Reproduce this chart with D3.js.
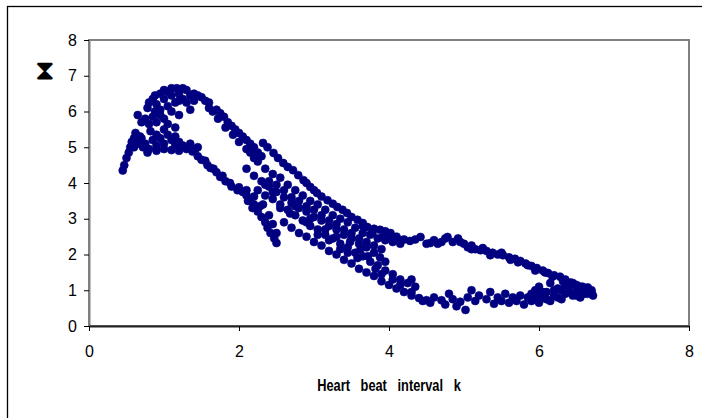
<!DOCTYPE html>
<html>
<meta charset="utf-8">
<style>
  body { margin: 0; background: #fff; }
  text { font-family: "Liberation Sans", Arial, sans-serif; fill: #000; }
  .tick text { font-size: 16px; }
  .title { font-size: 16px; font-weight: bold; white-space: pre; }
</style>
<body>
<script src="https://cdn.jsdelivr.net/npm/d3@7"></script>
<script>
// tick labels
var xTicks = [0, 2, 4, 6, 8]
var yTicks = [0, 1, 2, 3, 4, 5, 6, 7, 8]

// points [k, tau]
var hump = [[0.45,4.35],[0.47,4.5],[0.5,4.7],[0.53,4.85],[0.55,5.0],[0.57,5.15],[0.6,5.25],[0.63,5.2],[0.68,5.3],
  [0.66,5.1],[0.72,5.0],[0.65,5.9],[0.7,5.7],[0.78,6.1],[0.8,6.25],[0.85,6.35],[0.88,6.45],[0.95,6.5],[1.0,6.6],
  [1.05,6.55],[1.1,6.65],[1.17,6.65],[1.25,6.65],[1.3,6.6],[1.2,6.5],[1.1,6.45],[1.0,6.35],[0.9,6.2],[0.95,6.05],
  [1.05,6.15],[1.15,6.25],[1.25,6.35],[1.35,6.45],[1.35,6.05],[0.85,5.85],[0.8,5.65],[0.9,5.7],[1.0,5.8],[0.82,5.45],
  [0.9,5.35],[0.85,5.2],[0.95,5.25],[1.0,5.5],[1.05,5.35],[1.1,5.2],[1.15,5.3],[1.2,5.15],[1.0,5.1],[0.9,5.05],
  [0.8,4.95],[0.78,4.85],[0.9,4.9],[1.0,4.95],[1.1,4.92],[1.2,4.9],[1.3,4.95],[1.25,5.05],[1.35,5.1],[0.75,5.1],
  [0.62,5.4],[1.1,6.0],[1.2,5.9],[0.95,5.9],[1.05,5.65],[1.15,5.55],[0.75,5.8],[0.88,6.0],[1.2,6.3],[1.3,6.25],
  [1.4,6.3],[0.7,5.25],[1.15,5.05],[1.45,5.0],[0.6,5.0]]
var humpUpper = [[1.4,6.5],[1.45,6.45],[1.5,6.4],[1.55,6.3],[1.6,6.25],[1.6,6.1],[1.65,6.0],[1.7,6.05],[1.75,5.95],
  [1.8,5.85],[1.72,5.8],[1.85,5.7],[1.9,5.6],[1.82,5.55],[1.95,5.5],[2.0,5.4],[1.92,5.35],[2.05,5.3],[2.1,5.2],
  [2.0,5.15],[2.15,5.1],[2.2,5.0],[2.1,4.95],[2.25,4.85],[2.3,4.75],[2.2,4.7]]
var humpLower = [[1.38,4.88],[1.45,4.75],[1.5,4.65],[1.58,4.5],[1.62,4.42],[1.7,4.3],[1.75,4.17],[1.82,4.05],
  [1.9,3.9],[1.98,3.8],[2.05,3.75],[2.1,3.65],[2.15,3.55],[2.2,3.4],[2.18,3.3],[2.25,3.2],[2.3,3.05],[2.35,2.9],
  [2.38,2.75],[2.42,2.6],[2.47,2.45],[2.5,2.32],[2.28,3.35],[2.12,3.5],
  [1.42,4.95],[1.55,4.62],[1.66,4.4],[1.78,4.2],[1.88,4.0],[2.0,3.88],[2.1,3.8],[2.2,3.62],[2.32,3.4],[2.4,3.1],
  [2.45,2.85],[2.5,2.6]]
var topStrand = [[2.32,5.12],[2.38,5.0],[2.46,4.84],[2.52,4.7],[2.59,4.56],[2.65,4.45],[2.72,4.36],[2.79,4.22],
  [2.86,4.08],[2.9,4.0],[2.95,3.89],[3.0,3.8],[3.04,3.72],[3.1,3.62],[3.18,3.52],[3.25,3.42],[3.31,3.33],[3.38,3.25],
  [3.44,3.16],[3.5,3.05],[3.58,2.97],[3.65,2.88],[3.71,2.77],[3.8,2.72],[3.88,2.69],[3.95,2.65],[4.02,2.6],[4.1,2.5],
  [4.15,2.4],[4.2,2.42],[4.28,2.38],[4.35,2.42],[4.42,2.49],[4.5,2.3],[4.55,2.32],[4.78,2.49]]
var middle = [[2.15,4.85],[2.25,4.6],[2.35,4.4],[2.45,4.25],[2.55,4.15],[2.65,3.95],[2.75,3.8],[2.85,3.65],[2.95,3.5],
  [3.05,3.4],[3.15,3.25],[3.25,3.1],[3.35,3.0],[3.45,2.9],[3.55,2.75],[3.65,2.6],[3.75,2.55],[3.85,2.45],[3.95,2.4],
  [4.05,2.35],[4.15,2.3],
  [2.1,4.4],[2.2,4.2],[2.3,4.05],[2.4,3.9],[2.5,3.75],[2.6,3.6],[2.7,3.45],[2.8,3.3],[2.9,3.2],[3.0,3.05],[3.1,2.95],
  [3.2,2.8],[3.3,2.7],[3.4,2.55],[3.5,2.45],[3.6,2.3],[3.7,2.2],[3.8,2.05],[3.88,1.92],[3.95,1.8],
  [2.25,3.8],[2.35,3.65],[2.45,3.55],[2.55,3.4],[2.65,3.25],[2.75,3.1],[2.85,2.95],[2.95,2.8],[3.05,2.7],[3.15,2.55],
  [3.25,2.45],[3.35,2.3],[3.45,2.2],[3.55,2.05],[3.65,1.95],[3.75,1.8],[3.85,1.7],[3.95,1.55],[4.05,1.45],[4.15,1.3],
  [2.6,2.9],[2.7,2.75],[2.8,2.6],[2.9,2.5],[3.0,2.35],[3.1,2.25],[3.2,2.1],[3.3,2.0],[3.4,1.85],[3.5,1.75],[3.6,1.6],
  [3.7,1.5],[3.8,1.4],[3.9,1.25],[4.0,1.15],[4.1,1.05],[4.2,0.95],[4.3,0.85],[4.4,0.78],[4.5,0.72],
  [2.4,4.05],[2.5,3.95],[2.6,3.8],[2.7,3.6],[2.8,3.5],[2.9,3.35],[3.0,3.25],[3.1,3.1],[3.2,2.95],[3.3,2.85],[3.4,2.7],
  [3.5,2.6],[3.6,2.45],[3.7,2.35],[3.8,2.25],[3.9,2.15],
  [2.55,3.3],[2.68,3.15],[2.9,2.9],[3.05,2.55],[3.2,2.4],[3.35,2.15],[3.48,2.35],[3.62,2.15],[3.72,1.95],[3.82,1.6],
  [3.3,2.5],[3.15,2.7],[2.95,3.0],[2.75,3.35],[2.45,3.75],[2.35,3.95],[3.58,1.9],[3.45,2.05],[3.9,1.45],[4.05,1.3],
  [4.15,1.15],[4.25,1.2],[3.65,2.8],[3.78,2.6],[3.92,2.5],[4.0,2.45]]
var lowerFlat = [[4.3,1.3],[4.35,1.1],[4.3,0.95],[4.45,0.7],[4.55,0.65],[4.6,0.8],[4.7,0.72],[4.75,0.6],[4.8,0.9],
  [4.85,0.75],[4.9,0.55],[4.95,0.68],[5.02,0.45],[5.05,0.8],[5.1,1.0],[5.15,0.7],[5.2,0.85],[5.3,0.75],[5.35,0.95],
  [5.4,0.62],[5.45,0.8],[5.5,0.7],[5.55,0.9],[5.6,0.65],[5.65,0.8],[5.7,0.7],[5.75,0.85],[5.8,0.6],[5.85,0.8],
  [5.9,0.7],[5.95,1.0],[6.0,0.65],[6.05,0.8],[6.1,0.95],[6.15,0.7],[6.2,0.85],[6.25,1.05],[6.3,0.75],[6.35,0.9],
  [6.4,1.1],[6.45,0.85],[6.5,1.0],[6.55,0.8],[6.6,1.05],[6.65,0.9],[6.7,1.0],[6.72,0.85],
  [5.9,0.9],[6.0,1.1],[6.05,0.95],[6.15,1.2],[6.2,1.0],[6.25,0.8],[6.3,1.0],[6.35,1.15],[6.4,0.95],[6.45,1.2],
  [6.5,0.85],[6.55,1.1],[6.6,0.9],[6.0,0.85],[5.95,0.75],[6.1,0.75]]
var upperRight = [[4.6,2.4],[4.7,2.35],[4.85,2.35],[4.92,2.45],[5.0,2.3],[5.05,2.2],[5.1,2.25],[5.15,2.15],
  [5.22,2.12],[5.3,2.1],[5.38,2.05],[5.45,2.0],[5.52,1.98],[5.6,1.92],[5.68,1.88],[5.75,1.82],[5.82,1.75],[5.9,1.68],
  [5.97,1.62],[6.05,1.55],[6.12,1.48],[6.2,1.42],[6.28,1.38],[6.35,1.3],[6.42,1.22],[6.5,1.15],[6.58,1.1],
  [6.65,1.02],[6.7,0.95],
  [4.65,2.3],[4.75,2.45],[4.95,2.35],[5.1,2.15],[5.25,2.18],[5.35,1.98],[5.5,2.05],[5.62,1.85],[5.72,1.78],
  [5.85,1.7],[5.95,1.55],[6.08,1.5],[6.18,1.38],[6.32,1.25],[6.45,1.18],[6.55,1.05],[6.65,1.08]]

var points = [].concat(hump, humpUpper, humpLower, topStrand, middle, lowerFlat, upperRight)

var svg = d3.select('body').append('svg').attr('width', 702).attr('height', 418)

// outer chart frame
svg.append('rect').attr('x', 7.5).attr('y', 6.5).attr('width', 720).attr('height', 440)
  .attr('fill', 'none').attr('stroke', '#000').attr('stroke-width', 1.3)

var x = d3.scaleLinear().domain([0, 8]).range([89, 689])
var y = d3.scaleLinear().domain([0, 8]).range([326, 40])

// plot area box
svg.append('rect').attr('x', x(0)).attr('y', y(8)).attr('width', x(8) - x(0)).attr('height', y(0) - y(8))
  .attr('fill', 'none').attr('stroke', '#808080').attr('stroke-width', 2)

var yAxis = svg.append('g').attr('transform', 'translate(' + x(0) + ',0)')
  .call(d3.axisLeft(y).tickValues(yTicks).tickSize(5).tickSizeOuter(0).tickPadding(7))
yAxis.select('.domain').attr('stroke', '#808080').attr('stroke-width', 2)

var xAxis = svg.append('g').attr('transform', 'translate(0,' + y(0) + ')')
  .call(d3.axisBottom(x).tickValues(xTicks).tickSize(5).tickSizeOuter(0).tickPadding(15))
xAxis.select('.domain').attr('stroke', '#222').attr('stroke-width', 2)

svg.selectAll('.tick text').attr('fill', '#000')

svg.append('g').selectAll('circle').data(points).enter().append('circle')
  .attr('cx', d => x(d[0]))
  .attr('cy', d => y(d[1]))
  .attr('r', 4)
  .attr('fill', '#000080')
  .attr('stroke', '#000080')
  .attr('stroke-width', 0.6)

// title, squeezed like the narrow original
svg.append('text').attr('class', 'title')
  .attr('transform', 'translate(' + x(4) + ',391) scale(0.8,1)')
  .attr('text-anchor', 'middle').text('Heart   beat   interval   k')

svg.append('text').attr('x', 45).attr('y', 80).attr('text-anchor', 'middle')
  .style('font-family', 'DejaVu Sans').style('font-size', '28px').text('⧗')
</script>
</body>
</html>
